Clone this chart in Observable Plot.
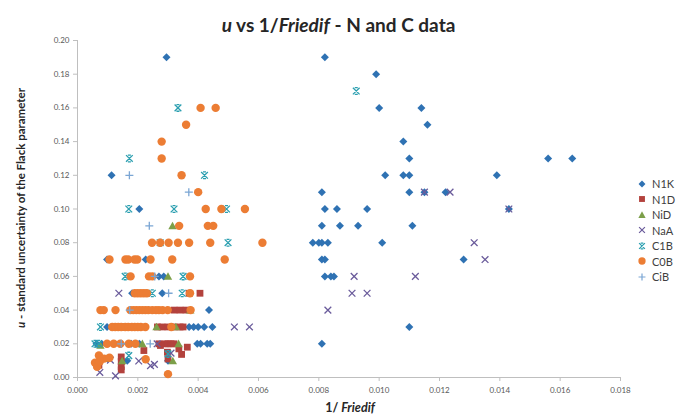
<!DOCTYPE html>
<html><head><meta charset="utf-8">
<script src="https://cdn.jsdelivr.net/npm/d3@7"></script>
<script src="https://cdn.jsdelivr.net/npm/@observablehq/plot@0.6"></script>
<style>
body{margin:0;background:#fff;font-family:Lato,"Open Sans",sans-serif;}
#wrap{position:relative;width:677px;height:416px;overflow:hidden;}
#title{position:absolute;z-index:2;left:0;top:13px;width:677px;text-align:center;font-weight:bold;font-size:19px;line-height:23px;color:#262626;}
#chart{position:absolute;z-index:1;left:0;top:30px;}
#legend{position:absolute;z-index:2;left:636px;top:176px;font-size:11px;color:#404040;}
.li{height:15.5px;display:flex;align-items:center;}
.li svg{margin-right:4px;}
</style></head>
<body>
<div id="wrap">
  <div id="chart"></div>
  <div id="title"><i>u</i> vs 1/<i>Friedif</i> - N and C data</div>
  <div id="legend"></div>
</div>
<script>
// ---- data: [1/Friedif, u] ----
const N1K = [[0.00295,0.19],[0.0082,0.19],[0.0099,0.18],[0.0100,0.16],[0.0114,0.16],[0.0116,0.15],[0.0108,0.14],[0.0110,0.13],[0.0156,0.13],[0.0164,0.13],[0.00113,0.12],[0.0102,0.12],[0.0108,0.12],[0.0110,0.12],[0.0139,0.12],[0.0081,0.11],[0.0110,0.11],[0.0115,0.11],[0.0122,0.11],[0.00205,0.10],[0.0082,0.10],[0.0086,0.10],[0.0096,0.10],[0.0143,0.10],[0.0081,0.09],[0.0087,0.09],[0.0093,0.09],[0.0111,0.09],[0.0078,0.08],[0.0080,0.08],[0.0081,0.08],[0.0083,0.08],[0.0101,0.08],[0.00098,0.07],[0.00226,0.07],[0.0081,0.07],[0.0082,0.07],[0.0128,0.07],[0.0027,0.06],[0.00286,0.06],[0.0082,0.06],[0.0084,0.06],[0.0085,0.06],[0.00181,0.05],[0.00281,0.05],[0.00236,0.04],[0.00436,0.04],[0.00098,0.03],[0.0037,0.03],[0.00385,0.03],[0.0040,0.03],[0.0042,0.03],[0.00447,0.03],[0.0110,0.03],[0.00063,0.02],[0.0008,0.02],[0.00145,0.02],[0.00178,0.02],[0.00205,0.02],[0.00397,0.02],[0.00408,0.02],[0.0043,0.02],[0.0044,0.02],[0.0081,0.02],[0.00165,0.01],[0.0030,0.01]];
const N1D = [[0.0037,0.05],[0.00406,0.05],[0.0032,0.04],[0.0034,0.04],[0.0036,0.04],[0.00265,0.03],[0.0028,0.03],[0.0030,0.03],[0.0032,0.03],[0.0034,0.03],[0.0035,0.03],[0.0027,0.02],[0.0029,0.02],[0.0030,0.02],[0.0031,0.02],[0.0032,0.02],[0.00071,0.0073],[0.00145,0.0122],[0.00145,0.0095],[0.00145,0.0065],[0.00145,0.0045],[0.0022,0.016],[0.00275,0.019],[0.00298,0.015],[0.0030,0.011],[0.00345,0.0137],[0.00336,0.017],[0.00364,0.018]];
const NiD = [[0.00315,0.09],[0.0030,0.06],[0.00374,0.04],[0.00262,0.03],[0.00326,0.03],[0.00076,0.019],[0.00215,0.02],[0.00335,0.02],[0.00096,0.0112],[0.00148,0.0098],[0.00316,0.0098]];
const NaA = [[0.0115,0.11],[0.01235,0.11],[0.0143,0.10],[0.01315,0.08],[0.01351,0.07],[0.00917,0.06],[0.0112,0.06],[0.00137,0.05],[0.0091,0.05],[0.0096,0.05],[0.0083,0.04],[0.0052,0.03],[0.0057,0.03],[0.00264,0.02],[0.0031,0.0145],[0.00109,0.0103],[0.00203,0.0098],[0.00242,0.0070],[0.00255,0.0078],[0.00074,0.003],[0.00126,0.001]];
const C1B = [[0.00924,0.17],[0.00333,0.16],[0.00172,0.13],[0.00421,0.12],[0.0017,0.10],[0.0032,0.10],[0.00494,0.10],[0.00274,0.08],[0.00499,0.08],[0.00158,0.06],[0.0035,0.06],[0.00248,0.05],[0.00347,0.05],[0.00076,0.03],[0.0015,0.03],[0.00058,0.02],[0.0007,0.02],[0.0017,0.013],[0.0030,0.014]];
const C0B = [[0.00408,0.16],[0.00458,0.16],[0.0036,0.15],[0.00279,0.14],[0.00279,0.13],[0.00345,0.12],[0.0040,0.11],[0.00425,0.10],[0.00477,0.10],[0.00555,0.10],[0.00337,0.09],[0.00432,0.09],[0.0045,0.09],[0.00247,0.08],[0.00274,0.08],[0.00302,0.08],[0.00333,0.08],[0.0037,0.08],[0.0044,0.08],[0.00613,0.08],[0.00106,0.07],[0.00159,0.07],[0.00168,0.07],[0.00189,0.07],[0.00198,0.07],[0.00242,0.07],[0.00314,0.07],[0.00488,0.07],[0.00176,0.06],[0.00237,0.06],[0.00248,0.06],[0.00373,0.06],[0.0019,0.05],[0.0020,0.05],[0.0021,0.05],[0.0022,0.05],[0.0023,0.05],[0.00373,0.05],[0.00076,0.04],[0.00087,0.04],[0.00126,0.04],[0.00175,0.04],[0.00185,0.04],[0.00195,0.04],[0.00205,0.04],[0.00215,0.04],[0.00225,0.04],[0.00235,0.04],[0.00248,0.04],[0.0026,0.04],[0.0027,0.04],[0.00282,0.04],[0.00299,0.04],[0.00375,0.04],[0.00115,0.03],[0.00125,0.03],[0.00135,0.03],[0.00145,0.03],[0.00158,0.03],[0.00168,0.03],[0.0018,0.03],[0.0019,0.03],[0.0020,0.03],[0.0021,0.03],[0.00225,0.03],[0.00311,0.03],[0.00098,0.02],[0.0012,0.02],[0.00142,0.02],[0.0017,0.02],[0.00192,0.02],[0.00058,0.0088],[0.00071,0.0131],[0.00065,0.0063],[0.00088,0.0112],[0.00106,0.0117],[0.00074,0.0095],[0.00226,0.0108],[0.0030,0.002]];
const CiB = [[0.00172,0.12],[0.00369,0.11],[0.00238,0.09],[0.00256,0.06],[0.00302,0.05],[0.00173,0.04],[0.00241,0.02],[0.00145,0.02]];

const seriesNames = ["N1K","N1D","NiD","NaA","C1B","C0B","CiB"];
const xTicks = [0,0.002,0.004,0.006,0.008,0.010,0.012,0.014,0.016,0.018];
const yTicks = [0,0.02,0.04,0.06,0.08,0.10,0.12,0.14,0.16,0.18,0.20];

// ---- custom marker shapes (size -> radius) ----
const rr = s => Math.sqrt(s / Math.PI);
const diamond = {draw(c, s){const r=rr(s); c.moveTo(0,-r); c.lineTo(r,0); c.lineTo(0,r); c.lineTo(-r,0); c.closePath();}};
const square = {draw(c, s){const r=rr(s)*0.85; c.rect(-r,-r,2*r,2*r);}};
const triangle = {draw(c, s){const r=rr(s); c.moveTo(0,-r); c.lineTo(r,r*0.8); c.lineTo(-r,r*0.8); c.closePath();}};
const times = {draw(c, s){const r=rr(s)*0.8; c.moveTo(-r,-r); c.lineTo(r,r); c.moveTo(r,-r); c.lineTo(-r,r);}};
const star = {draw(c, s){const r=rr(s)*0.8; c.moveTo(-r,-r); c.lineTo(r,r); c.moveTo(r,-r); c.lineTo(-r,r); c.moveTo(-r*0.45,-r); c.lineTo(r*0.45,-r); c.moveTo(-r*0.45,r); c.lineTo(r*0.45,r);}};
const plus = {draw(c, s){const r=rr(s); c.moveTo(-r,0); c.lineTo(r,0); c.moveTo(0,-r); c.lineTo(0,r);}};

const styles = {
  N1K:{data:N1K, sym:diamond, color:"#2f72b3", filled:true, r:4},
  N1D:{data:N1D, sym:square, color:"#b3423d", filled:true, r:4},
  NiD:{data:NiD, sym:triangle, color:"#7c9f49", filled:true, r:4.2},
  NaA:{data:NaA, sym:times, color:"#6a5b9b", filled:false, r:4.2},
  C1B:{data:C1B, sym:star, color:"#2b9fb0", filled:false, r:4.2},
  C0B:{data:C0B, sym:"circle", color:"#ec7d34", filled:true, r:4.2},
  CiB:{data:CiB, sym:plus, color:"#7ba6d4", filled:false, r:4}
};

const dotMarks = seriesNames.map(n => {
  const s = styles[n];
  return Plot.dot(s.data, {
    x: d => d[0], y: d => d[1], symbol: s.sym, r: s.r,
    fill: s.filled ? s.color : "none",
    stroke: s.filled ? "none" : s.color,
    strokeWidth: 1.3
  });
});

const plot = Plot.plot({
  width: 677, height: 386,
  marginTop: 10, marginBottom: 39, marginLeft: 77, marginRight: 57,
  style: {fontFamily: "Lato, 'Open Sans', sans-serif", background: "transparent"},
  x: {domain: [0, 0.018]},
  y: {domain: [0, 0.20]},
  marks: [
    Plot.ruleX([0], {stroke: "#bfbfbf"}),
    Plot.ruleY([0], {stroke: "#bfbfbf"}),
    Plot.axisY({ticks: yTicks, tickSize: 4, tickFormat: () => "", stroke: "#bfbfbf", label: null}),
    Plot.axisY({ticks: yTicks, tickSize: 0, tickPadding: 8, tickFormat: d3.format(".2f"), fill: "#595959", fontSize: 8, label: null}),
    Plot.axisX({ticks: xTicks, tickSize: 4, tickFormat: () => "", stroke: "#bfbfbf", label: null}),
    Plot.axisX({ticks: xTicks, tickSize: 0, tickPadding: 10, tickFormat: d3.format(".3f"), fill: "#595959", fontSize: 8, label: null}),
    ...dotMarks
  ]
});
document.getElementById("chart").appendChild(plot);

// axis titles with mixed italics
const svg = d3.select(plot);
const yl = svg.append("text")
  .attr("transform", "translate(25,178) rotate(-90)")
  .attr("text-anchor", "middle")
  .attr("font-weight", "bold").attr("font-size", 11.5).attr("fill", "#262626")
  .attr("font-family", "Lato, 'Open Sans', sans-serif");
yl.append("tspan").attr("font-style", "italic").text("u");
yl.append("tspan").text(" - standard uncertainty of the Flack parameter");
const xl = svg.append("text")
  .attr("x", 350).attr("y", 382)
  .attr("text-anchor", "middle")
  .attr("font-weight", "bold").attr("font-size", 12.5).attr("fill", "#262626")
  .attr("font-family", "Lato, 'Open Sans', sans-serif");
xl.append("tspan").text("1/ ");
xl.append("tspan").attr("font-style", "italic").text("Friedif");

// legend
const lg = d3.select("#legend");
seriesNames.forEach(n => {
  const s = styles[n];
  const row = lg.append("div").attr("class", "li");
  const sv = row.append("svg").attr("width", 12).attr("height", 12);
  const sym = s.sym === "circle" ? d3.symbolCircle : s.sym;
  sv.append("path").attr("transform", "translate(6,6)")
    .attr("d", d3.symbol(sym, s.r * s.r * Math.PI * 0.75)())
    .attr("fill", s.filled ? s.color : "none")
    .attr("stroke", s.filled ? "none" : s.color)
    .attr("stroke-width", 1.2);
  row.append("span").text(n);
});
</script>
</body></html>
